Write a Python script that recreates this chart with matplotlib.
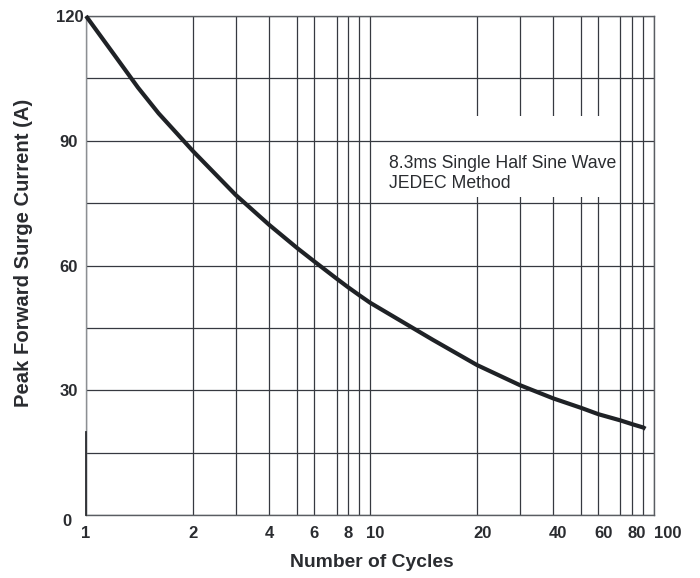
import numpy as np
import matplotlib
matplotlib.use('Agg')
import matplotlib.pyplot as plt
import matplotlib.transforms as mtransforms
from matplotlib.patches import Rectangle

# Datos
ciclos = [1, 1.2, 1.4, 1.6, 1.8, 2, 3, 4, 5, 6, 7, 8, 9, 10,
          15, 20, 30, 40, 50, 60, 70, 80, 90, 92]
corriente = [120, 110.7, 102.8, 96.6, 91.8, 87.5, 77.0, 69.8, 64.2, 61.0,
             56.9, 54.8, 52.9, 51.1, 42.2, 36.1, 31.3, 28.1, 25.8, 24.3,
             22.8, 21.9, 21.1, 20.8]

xticks = [1, 2, 4, 6, 8, 10, 20, 40, 60, 80, 100]
xticks_menores = [3, 5, 7, 9, 30, 50, 70, 90]
yticks = [0, 30, 60, 90, 120]
yticks_menores = [15, 45, 75, 105]

nota = '8.3ms Single Half Sine Wave\nJEDEC Method'

# Papel semi-log del original: posicion de 1..10 dentro de cada decada
decada_log = np.log10(np.arange(1, 11))
decada_papel = np.array([0, .377, .527, .645, .744, .804, .882, .923, .962, 1.0])


def adelante(x):
    lx = np.log10(np.clip(np.asarray(x, dtype=float), 1e-6, None))
    d = np.floor(lx)
    return d + np.interp(lx - d, decada_log, decada_papel)


def inversa(p):
    p = np.asarray(p, dtype=float)
    d = np.floor(p)
    return 10 ** (d + np.interp(p - d, decada_papel, decada_log))


plt.rcParams['font.family'] = ['Liberation Sans', 'DejaVu Sans']

fig = plt.figure(figsize=(7, 5.78), dpi=100)
ax = fig.add_axes([0.1229, 0.1085, 0.8114, 0.8638])

ax.set_xscale('function', functions=(adelante, inversa))
ax.set_xlim(1, 100)
ax.set_ylim(0, 120)

ax.set_xticks(xticks)
ax.set_xticklabels([str(t) for t in xticks])
ax.set_xticks(xticks_menores, minor=True)
ax.set_yticks(yticks)
ax.set_yticks(yticks_menores, minor=True)

gris = '#363940'
ax.grid(True, which='both', color=gris, linewidth=0.9)
ax.tick_params(which='both', length=0)
ax.tick_params(axis='x', pad=8, labelsize=12, labelcolor='#2a2c30')
ax.tick_params(axis='y', pad=6, labelsize=12, labelcolor='#2a2c30')
for lab in ax.get_xticklabels() + ax.get_yticklabels():
    lab.set_fontweight('bold')

# lineas verticales por debajo del recuadro blanco, horizontales por encima
ax.xaxis.set_zorder(0.5)
ax.yaxis.set_zorder(1.5)
ax.add_patch(Rectangle((0.509, 0.6375), 0.414, 0.1625, transform=ax.transAxes,
                       facecolor='white', edgecolor='none', zorder=1))

for lado in ['top', 'right', 'bottom']:
    ax.spines[lado].set_color('#5a5d62')
    ax.spines[lado].set_linewidth(1)
ax.spines['left'].set_color('#8c8f93')
ax.spines['left'].set_linewidth(1)
ax.plot([1, 1], [0, 20], color='#2a2c30', linewidth=1.3, zorder=2.6, clip_on=False)

ax.plot(ciclos, corriente, color='#1f2226', linewidth=3, zorder=3,
        clip_on=False, solid_capstyle='butt', solid_joinstyle='round')

ax.text(0.533, 0.722, nota, transform=ax.transAxes, fontsize=12.7,
        color='#2a2c30', ha='left', va='top', linespacing=1.25, zorder=4)

ax.set_xlabel('Number of Cycles', fontsize=13.9, fontweight='bold', color='#2a2c30')
ax.set_ylabel('Peak Forward Surge Current (A)', fontsize=14.6, fontweight='bold',
              color='#2a2c30')
ax.xaxis.set_label_coords(0.5035, -0.077)
ax.yaxis.set_label_coords(-0.093, 0.526)

# ajustes finos de las etiquetas como en el original
dpi = fig.dpi
for lab, t in zip(ax.get_xticklabels(), xticks):
    if t == 100:
        lab.set_horizontalalignment('left')
    elif t >= 10:
        lab.set_transform(lab.get_transform() +
                          mtransforms.ScaledTranslation(5 / dpi, 0, fig.dpi_scale_trans))
for lab, t in zip(ax.get_yticklabels(), yticks):
    if t == 120:
        lab.set_transform(lab.get_transform() +
                          mtransforms.ScaledTranslation(6 / dpi, 0, fig.dpi_scale_trans))
    elif t == 0:
        lab.set_transform(lab.get_transform() +
                          mtransforms.ScaledTranslation(-6 / dpi, -5 / dpi, fig.dpi_scale_trans))

fig.savefig('out.png', dpi=100, facecolor='white')
